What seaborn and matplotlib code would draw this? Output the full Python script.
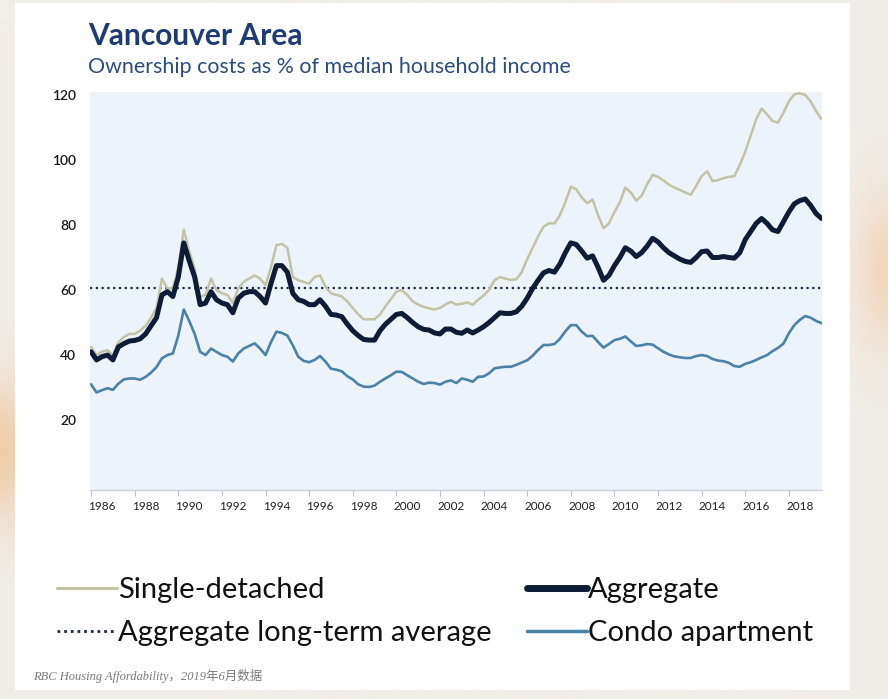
import numpy as np
import pandas as pd
import matplotlib
matplotlib.use("Agg")
import matplotlib.pyplot as plt
import seaborn as sns
from matplotlib.lines import Line2D
from matplotlib.patches import Rectangle

# Quarterly series, 1985Q3 .. 2019Q1 (ownership costs, % of median household income)
quarters = pd.period_range("1985Q3", "2019Q1", freq="Q")

single_detached = [
    42.5, 40,
    41, 41.5, 40, 44,
    45.5, 46.5, 46.5, 47.5,
    49, 51.5, 54.5, 63.5,
    60.5, 60.5, 67, 78.5,
    72, 66.5, 58, 58.5,
    63.5, 60, 59, 58.5,
    56, 60.5, 62.5, 63.5,
    64.5, 63.5, 61.5, 67,
    73.8, 74.2, 73, 64,
    63, 62.5, 62, 64,
    64.5, 61, 59, 58.5,
    58, 56.5, 54.5, 52.5,
    51, 51, 51, 52.5,
    55, 57.2, 59.5, 60,
    58.5, 56.5, 55.5, 54.8,
    54.4, 54, 54.5, 55.5,
    56.4, 55.5, 55.8, 56.2,
    55.5, 57, 58.3, 60,
    63, 64, 63.5, 63.1,
    63.3, 65.5, 69.5, 73,
    76.5, 79.5, 80.5, 80.5,
    83, 87, 91.8, 91,
    88.5, 86.7, 87.8, 83,
    79, 80.5, 84, 87,
    91.5, 90, 87.5, 89,
    92.5, 95.4, 94.8, 93.7,
    92.4, 91.5, 90.8, 90,
    89.3, 92, 95, 96.5,
    93.5, 93.8, 94.4, 94.8,
    95, 98.5, 102.5, 107.5,
    112.5, 115.8, 114, 112,
    111.5, 114.5, 118, 120.2,
    120.5, 120, 118, 115,
    112.5,
]

aggregate = [
    41, 38.5,
    39.5, 40, 38.5, 42.5,
    43.5, 44.3, 44.5, 45,
    46.5, 49, 51.5, 58.5,
    59.5, 58, 64, 74.5,
    69, 64, 55.5, 56,
    59.5, 57, 56, 55.5,
    53, 57.5, 59, 59.5,
    59.5, 58, 56, 62,
    67.5, 67.5, 65.5, 59,
    57, 56.5, 55.5, 55.5,
    57, 55, 52.5, 52.3,
    51.8, 49.5, 47.5, 46,
    44.8, 44.6, 44.6, 47.5,
    49.5, 51, 52.5, 52.8,
    51.5, 50, 48.7, 47.9,
    47.7, 46.8, 46.5, 48,
    48, 47, 46.7, 47.7,
    46.8, 47.7, 48.7, 50,
    51.5, 53, 52.8, 52.8,
    53.3, 55, 57.5, 60.5,
    63, 65.3, 66, 65.5,
    68, 71.5, 74.5, 74,
    72, 69.8, 70.5, 67,
    63, 64.5, 67.5, 70,
    73, 72, 70.3, 71.5,
    73.5, 75.9, 74.8, 73,
    71.5, 70.5, 69.5, 68.8,
    68.5, 70, 71.8, 72,
    70, 70, 70.3, 70,
    69.8, 71.5, 75.5, 78,
    80.5, 82, 80.5, 78.5,
    78, 81, 84, 86.5,
    87.5, 88, 86, 83.5,
    82,
]

condo = [
    31, 28.5,
    29.2, 29.8, 29.3, 31.2,
    32.5, 32.8, 32.8, 32.4,
    33.3, 34.6, 36.3, 39,
    40, 40.5, 46, 54,
    50.5, 46.5, 41, 40,
    42, 41, 40, 39.5,
    38, 40.5, 42, 42.8,
    43.6, 42, 40, 44,
    47.2, 46.8, 46, 43,
    39.5, 38.2, 37.8, 38.5,
    39.7, 38, 35.8, 35.5,
    35, 33.5, 32.5, 31,
    30.3, 30.2, 30.6, 31.8,
    32.8, 33.8, 34.9, 34.8,
    33.8, 32.8, 31.8, 31.1,
    31.5, 31.4, 30.9, 31.8,
    32.2, 31.4, 32.8, 32.4,
    31.8, 33.3, 33.4, 34.4,
    35.9, 36.2, 36.4, 36.4,
    37, 37.7, 38.4, 39.8,
    41.6, 43.1, 43.1, 43.4,
    45, 47.3, 49.2, 49.2,
    47.2, 45.8, 45.9, 44,
    42.3, 43.4, 44.6, 45,
    45.7, 44.2, 42.8, 43,
    43.4, 43.2, 42.1, 41,
    40.2, 39.6, 39.3, 39.1,
    39.1, 39.7, 40, 39.7,
    38.8, 38.3, 38.1, 37.6,
    36.6, 36.4, 37.3, 37.8,
    38.5, 39.3, 40, 41.2,
    42.2, 43.5, 46.7, 49.2,
    50.8, 52, 51.5, 50.5,
    49.8,
]

long_term_average = 60.5

year_labels = [str(y) for y in range(1986, 2019, 2)]
y_ticks = [20, 40, 60, 80, 100, 120]

colors = {
    "Single-detached": "#c3c2a4",
    "Aggregate": "#0e1c38",
    "Condo apartment": "#4a82a8",
    "avg": "#1c2a48",
}
widths = {"Single-detached": 1.8, "Aggregate": 3.6, "Condo apartment": 1.9}

# decimal-year position of each quarter
t = np.array([q.year + (q.quarter - 1) / 4 for q in quarters])
df = pd.DataFrame({"t": t, "Single-detached": single_detached,
                   "Aggregate": aggregate, "Condo apartment": condo})
long_df = df.melt(id_vars="t", var_name="series", value_name="value")

W, H = 888, 699
fig = plt.figure(figsize=(W / 100, H / 100), dpi=100)
fig.patch.set_facecolor("#f1ede8")

# soft warm glow behind the card
bg = fig.add_axes([0, 0, 1, 1], zorder=-10)
yy, xx = np.mgrid[0:H, 0:W]
glow = (np.exp(-(((xx - 0) / 45) ** 2 + ((yy - 450) / 70) ** 2))
        + 0.7 * np.exp(-(((xx - 888) / 35) ** 2 + ((yy - 270) / 80) ** 2)))
base = np.array([241, 237, 232]) / 255
warm = np.array([240, 205, 170]) / 255
img = base[None, None, :] * (1 - glow[..., None]) + warm[None, None, :] * glow[..., None]
bg.imshow(np.clip(img, 0, 1), extent=[0, W, H, 0], aspect="auto")
bg.set_xlim(0, W)
bg.set_ylim(H, 0)
bg.axis("off")
bg.add_patch(Rectangle((15, 3), 835, 687, facecolor="white", edgecolor="none"))

# plotting area
ax = fig.add_axes([90 / W, 1 - 490 / H, (822 - 90) / W, (490 - 92) / H])
ax.set_facecolor("#ecf3fb")

sns.set_style("white")
plt.rcParams["font.family"] = ["Lato", "DejaVu Sans"]

ax.axhline(long_term_average, color=colors["avg"], lw=1.6, ls=(0, (1, 1.6)), zorder=2)
for name in ["Single-detached", "Condo apartment", "Aggregate"]:
    sub = long_df[long_df["series"] == name]
    sns.lineplot(data=sub, x="t", y="value", ax=ax, color=colors[name],
                 linewidth=widths[name], legend=False,
                 zorder=4 if name == "Aggregate" else 3)

ax.set_xlim(1985.45, 2019.02)
ax.set_ylim(-1.5, 120.9)
ax.set_xlabel("")
ax.set_ylabel("")

ax.set_yticks(y_ticks)
ax.set_yticklabels([str(v) for v in y_ticks], fontsize=10, color="#1a1a1a",
                   family=["Lato", "DejaVu Sans"], fontweight="semibold")
ax.tick_params(axis="y", length=0, pad=10)

label_pos = [int(y) for y in year_labels]
ax.set_xticks(label_pos)
ax.set_xticklabels(year_labels, fontsize=8.5, color="#222222",
                   family=["Lato", "DejaVu Sans"])
ax.tick_params(axis="x", which="major", length=0, pad=8)
ax.set_xticks([y + 0.5 for y in range(1985, 2019, 2)], minor=True)
ax.tick_params(axis="x", which="minor", length=4, color="#b9c3cf", width=0.8)

for side in ["top", "right", "left"]:
    ax.spines[side].set_visible(False)
ax.spines["bottom"].set_color("#c8d1dc")
ax.spines["bottom"].set_linewidth(1.0)

# titles
fig.text(88 / W, 1 - 36 / H, "Vancouver Area", fontsize=21.5, fontweight="bold",
         color="#1d3c74", ha="left", va="center", family=["Lato", "DejaVu Sans"])
fig.text(88 / W, 1 - 67 / H, "Ownership costs as % of median household income",
         fontsize=15.4, color="#2b4c7e", ha="left", va="center",
         family=["Lato", "DejaVu Sans"])

# legend in two columns
h_single = Line2D([], [], color=colors["Single-detached"], lw=2.2)
h_avg = Line2D([], [], color=colors["avg"], lw=2.0, ls=(0, (1, 1.4)))
h_agg = Line2D([], [], color=colors["Aggregate"], lw=5)
h_condo = Line2D([], [], color=colors["Condo apartment"], lw=2.5)

leg_kw = dict(loc="upper left", frameon=False, handlelength=2.05,
              handletextpad=0.05, labelspacing=0.58, borderpad=0, borderaxespad=0,
              prop={"family": ["Lato", "DejaVu Sans"], "size": 21})
l1 = fig.legend([h_single, h_avg], ["Single-detached", "Aggregate long-term average"],
                bbox_to_anchor=(57 / W, 1 - 577 / H), **leg_kw)
l2 = fig.legend([h_agg, h_condo], ["Aggregate", "Condo apartment"],
                bbox_to_anchor=(527 / W, 1 - 577 / H), **leg_kw)
for lg in (l1, l2):
    for txt in lg.get_texts():
        txt.set_color("#111111")

fig.text(33 / W, 1 - 676 / H, "RBC Housing Affordability，2019年6月数据",
         fontsize=9, color="#7a7a7a", style="italic", ha="left", va="center",
         family=["Liberation Serif", "Noto Sans CJK SC"])

fig.savefig("out.png", dpi=100, facecolor=fig.get_facecolor())
